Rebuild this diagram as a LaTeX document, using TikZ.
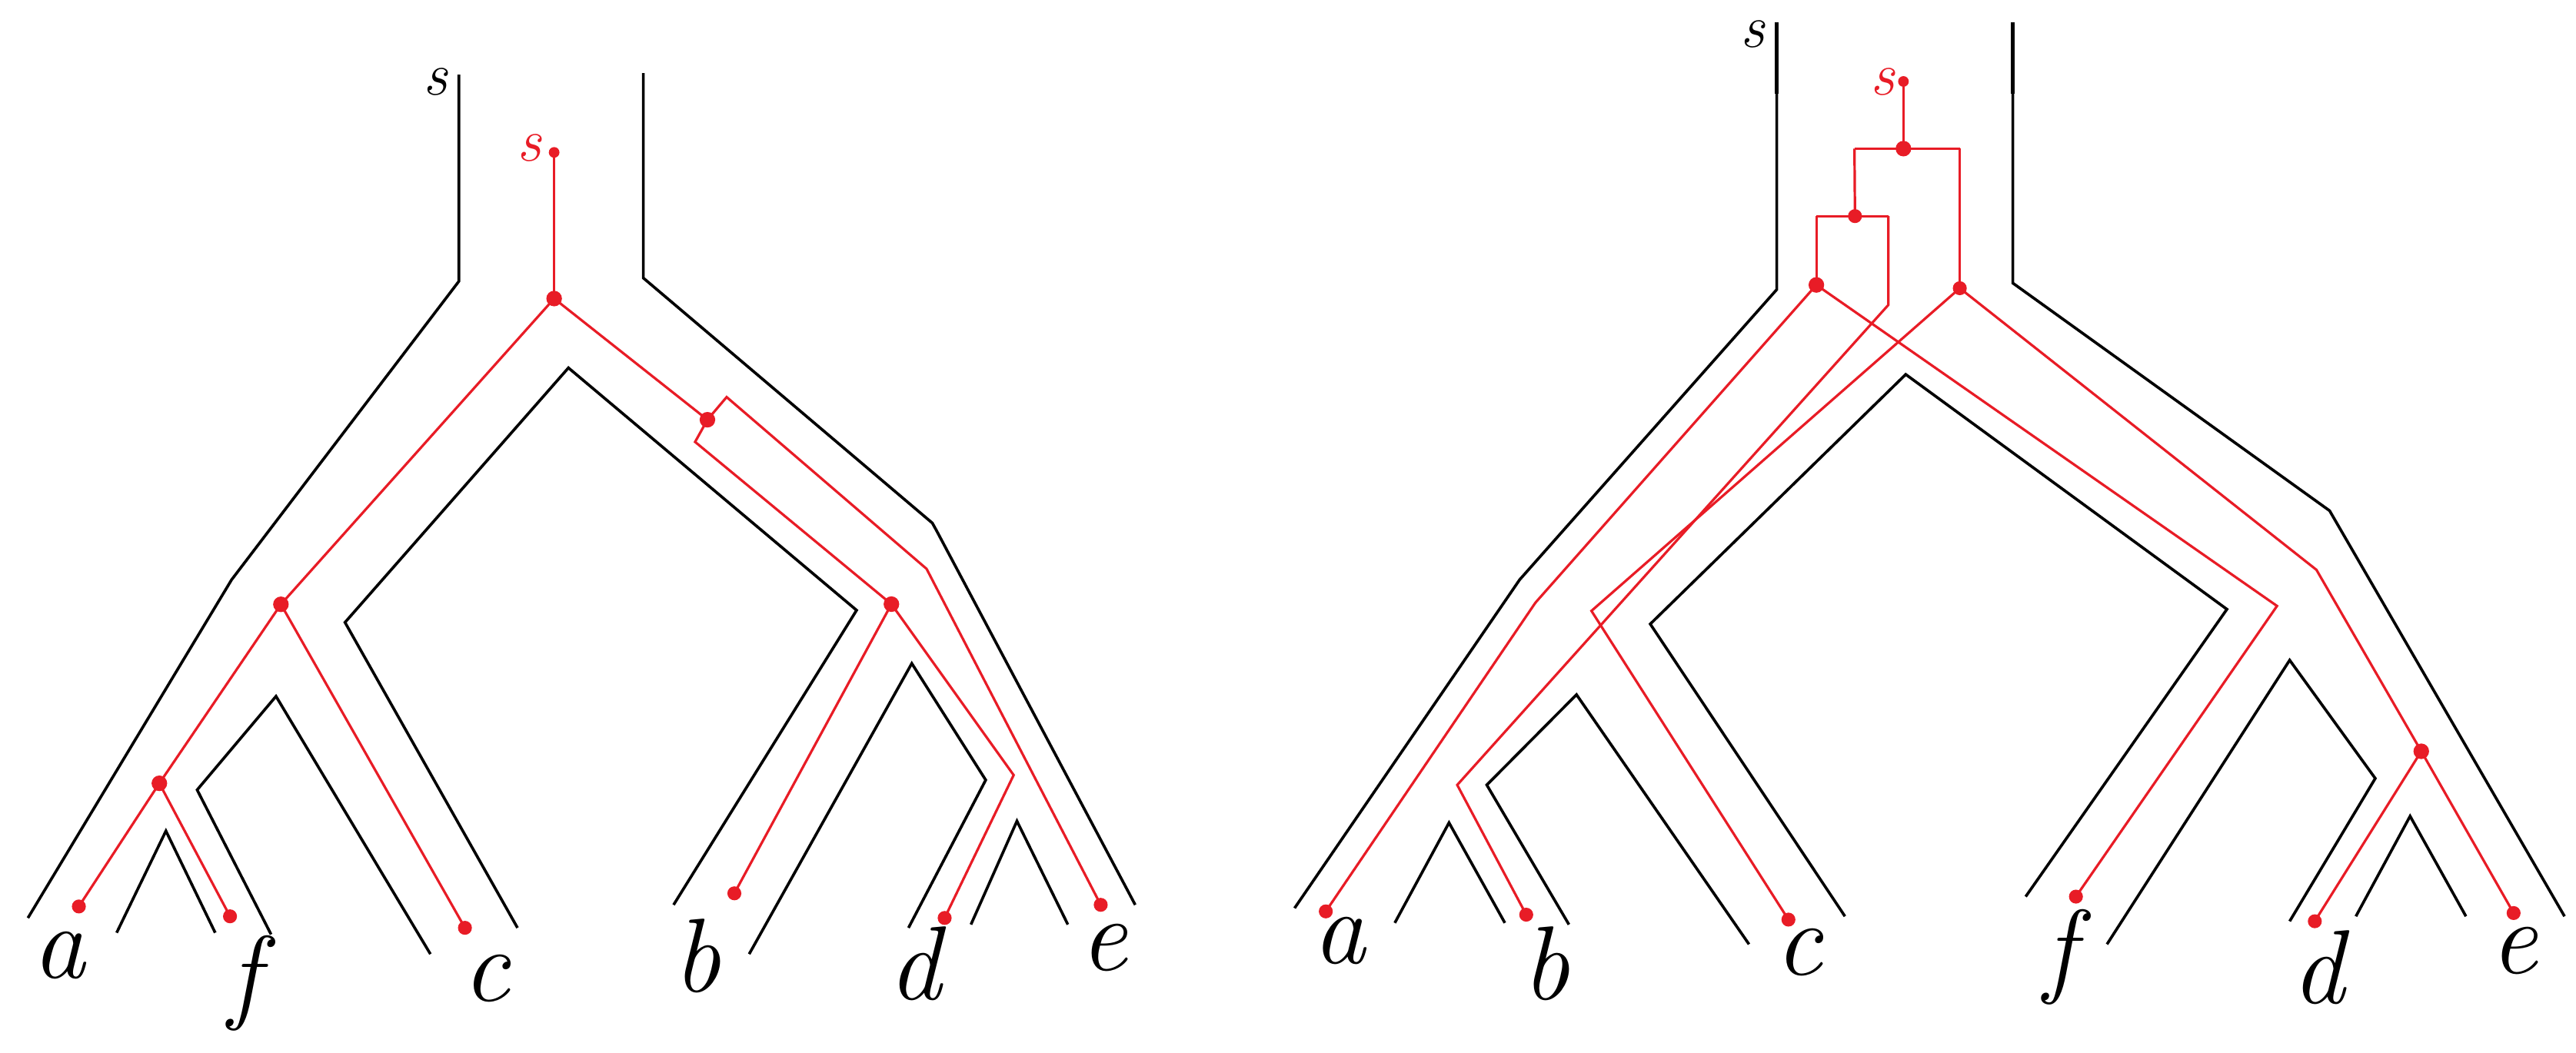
\documentclass[tikz,border=0pt]{standalone}
\usepackage{fontspec}
\definecolor{gred}{RGB}{232,28,38}
\begin{document}
\begin{tikzpicture}[x=1pt,y=-1pt,
  sp/.style={line width=1.7pt, line join=miter, line cap=butt},
  thk/.style={line width=2.6pt, line cap=butt},
  gt/.style={gred, line width=1.5pt, line join=miter},
  dotb/.style={circle, fill=gred, inner sep=0pt, minimum size=9.5pt},
  dotm/.style={circle, fill=gred, inner sep=0pt, minimum size=8.5pt},
  dots/.style={circle, fill=gred, inner sep=0pt, minimum size=6.5pt},
  leaf/.style={font=\fontsize{64}{64}\selectfont\itshape, inner sep=0pt},
  slab/.style={font=\fontsize{37}{37}\selectfont\itshape, inner sep=0pt}]
\useasboundingbox (0,0) rectangle (1568,641);

% ================= LEFT TREE =================
% species tree (black)
\draw[sp] (279.3,45.5) -- (279.3,171.3) -- (141,353) -- (17,559);
\draw[sp] (391.6,44.5) -- (391.6,169.3) -- (567.5,318.5) -- (570,323) -- (691,551);
\draw[sp] (315,565) -- (210,379) -- (346,224) -- (521.4,371.6) -- (410,551);
\draw[sp] (165,569) -- (120,481) -- (168,424) -- (262,581);
\draw[sp] (71,568) -- (101,506) -- (131,568);
\draw[sp] (456,581) -- (555,404) -- (600,475) -- (553,565);
\draw[sp] (591,563) -- (619,500) -- (650,563);
\node[slab] (Lsb) at (265,50) {s};

% gene tree (red)
\node[dots] (Ls) at (337.3,92.8) {};
\node[slab, text=gred] (Lsr) at (322.2,90.2) {s};
\node[dotb] (L1) at (337.3,181.8) {};
\node[dotb] (L2) at (171,368) {};
\node[dotb] (L3) at (97,477) {};
\node[dotm] (La) at (48,552) {};
\node[dotm] (Lf) at (140,558) {};
\node[dotm] (Lc) at (283,565) {};
\node[dotb] (L4) at (430.6,255.6) {};
\coordinate (Lk1) at (442.3,241.8);
\coordinate (Lk2) at (564,346.4);
\node[dotm] (Le) at (670,551) {};
\coordinate (Lk3) at (423.1,269.1);
\node[dotb] (L5) at (542.6,367.9) {};
\node[dotm] (Lb) at (447,544) {};
\coordinate (Lk4) at (617,472);
\node[dotm] (Ld) at (575,559) {};

\draw[gt] (Ls.center) -- (L1.center);
\draw[gt] (L1.center) -- (L2.center);
\draw[gt] (L2.center) -- (L3.center);
\draw[gt] (L3.center) -- (La.center);
\draw[gt] (L3.center) -- (Lf.center);
\draw[gt] (L2.center) -- (Lc.center);
\draw[gt] (L1.center) -- (L4.center);
\draw[gt] (L4.center) -- (Lk1) -- (Lk2) -- (Le.center);
\draw[gt] (L4.center) -- (Lk3) -- (L5.center);
\draw[gt] (L5.center) -- (Lb.center);
\draw[gt] (L5.center) -- (Lk4) -- (Ld.center);

% leaf labels
\node[leaf] (lla) at (36,582) {a};
\node[leaf] (llf) at (149,599) {f};
\node[leaf] (llc) at (296,596) {c};
\node[leaf] (llb) at (424,582) {b};
\node[leaf] (lld) at (557,587) {d};
\node[leaf] (lle) at (672,577) {e};

% ================= RIGHT TREE =================
\draw[sp] (1081.5,13.7) -- (1081.5,176.3) -- (925,353) -- (788,553);
\draw[sp] (1225.2,13.7) -- (1225.2,172.4) -- (1418,311) -- (1561,558);
\draw[thk] (1081.5,13.7) -- (1081.5,57);
\draw[thk] (1225.2,13.7) -- (1225.2,57);
\draw[sp] (1123,558) -- (1004.5,380) -- (1160,228) -- (1355.5,371) -- (1233,546);
\draw[sp] (955,563) -- (905,478) -- (959.6,423) -- (1064.6,575);
\draw[sp] (849,562) -- (882,501) -- (916,562);
\draw[sp] (1282.5,575) -- (1393.7,402) -- (1445.8,474) -- (1393.7,561);
\draw[sp] (1434,558) -- (1467,497) -- (1501,558);
\node[slab] (Rsb) at (1067,21) {s};

% gene tree (red)
\node[dots] (Rs) at (1158.6,49.6) {};
\node[slab, text=gred] (Rsr) at (1146,50) {s};
\node[dotb] (R1) at (1158.6,90.5) {};
\coordinate (Rh1) at (1128.8,90.5);
\coordinate (Rh2) at (1192.9,90.5);
\node[dotm] (R2) at (1192.9,175.5) {};
\node[dotm] (R3) at (1129.1,131.6) {};
\coordinate (Rh3) at (1105.6,131.6);
\coordinate (Rh4) at (1149.4,131.6);
\node[dotb] (R4) at (1105.6,173.5) {};
\coordinate (Rk1) at (1149.4,185.7);
\coordinate (Rk2) at (887,478);
\node[dotm] (Rb) at (929,557) {};
\coordinate (Rk3) at (934.6,367);
\node[dotm] (Ra) at (807,555) {};
\coordinate (Rk4) at (1386,369);
\node[dotm] (Rf) at (1263.6,546) {};
\coordinate (Rk5) at (968.7,372);
\node[dotm] (Rc) at (1088.6,560) {};
\coordinate (Rk6) at (1410,347);
\node[dotb] (R5) at (1473.8,457.5) {};
\node[dotm] (Rd) at (1409,561) {};
\node[dotm] (Re) at (1530,556) {};

\draw[gt] (Rs.center) -- (R1.center);
\draw[gt] (Rh1) -- (Rh2);
\draw[gt] (Rh1) -- (R3.center);
\draw[gt] (Rh2) -- (R2.center);
\draw[gt] (Rh3) -- (Rh4);
\draw[gt] (Rh3) -- (R4.center);
\draw[gt] (Rh4) -- (Rk1) -- (Rk2) -- (Rb.center);
\draw[gt] (R4.center) -- (Rk3) -- (Ra.center);
\draw[gt] (R4.center) -- (Rk4) -- (Rf.center);
\draw[gt] (R2.center) -- (Rk5) -- (Rc.center);
\draw[gt] (R2.center) -- (Rk6) -- (R5.center);
\draw[gt] (R5.center) -- (Rd.center);
\draw[gt] (R5.center) -- (Re.center);

% leaf labels
\node[leaf] (rla) at (815,573) {a};
\node[leaf] (rlb) at (941,587) {b};
\node[leaf] (rlc) at (1095,580) {c};
\node[leaf] (rlf) at (1254,583) {f};
\node[leaf] (rld) at (1411,589) {d};
\node[leaf] (rle) at (1530,579) {e};
\end{tikzpicture}
\end{document}
